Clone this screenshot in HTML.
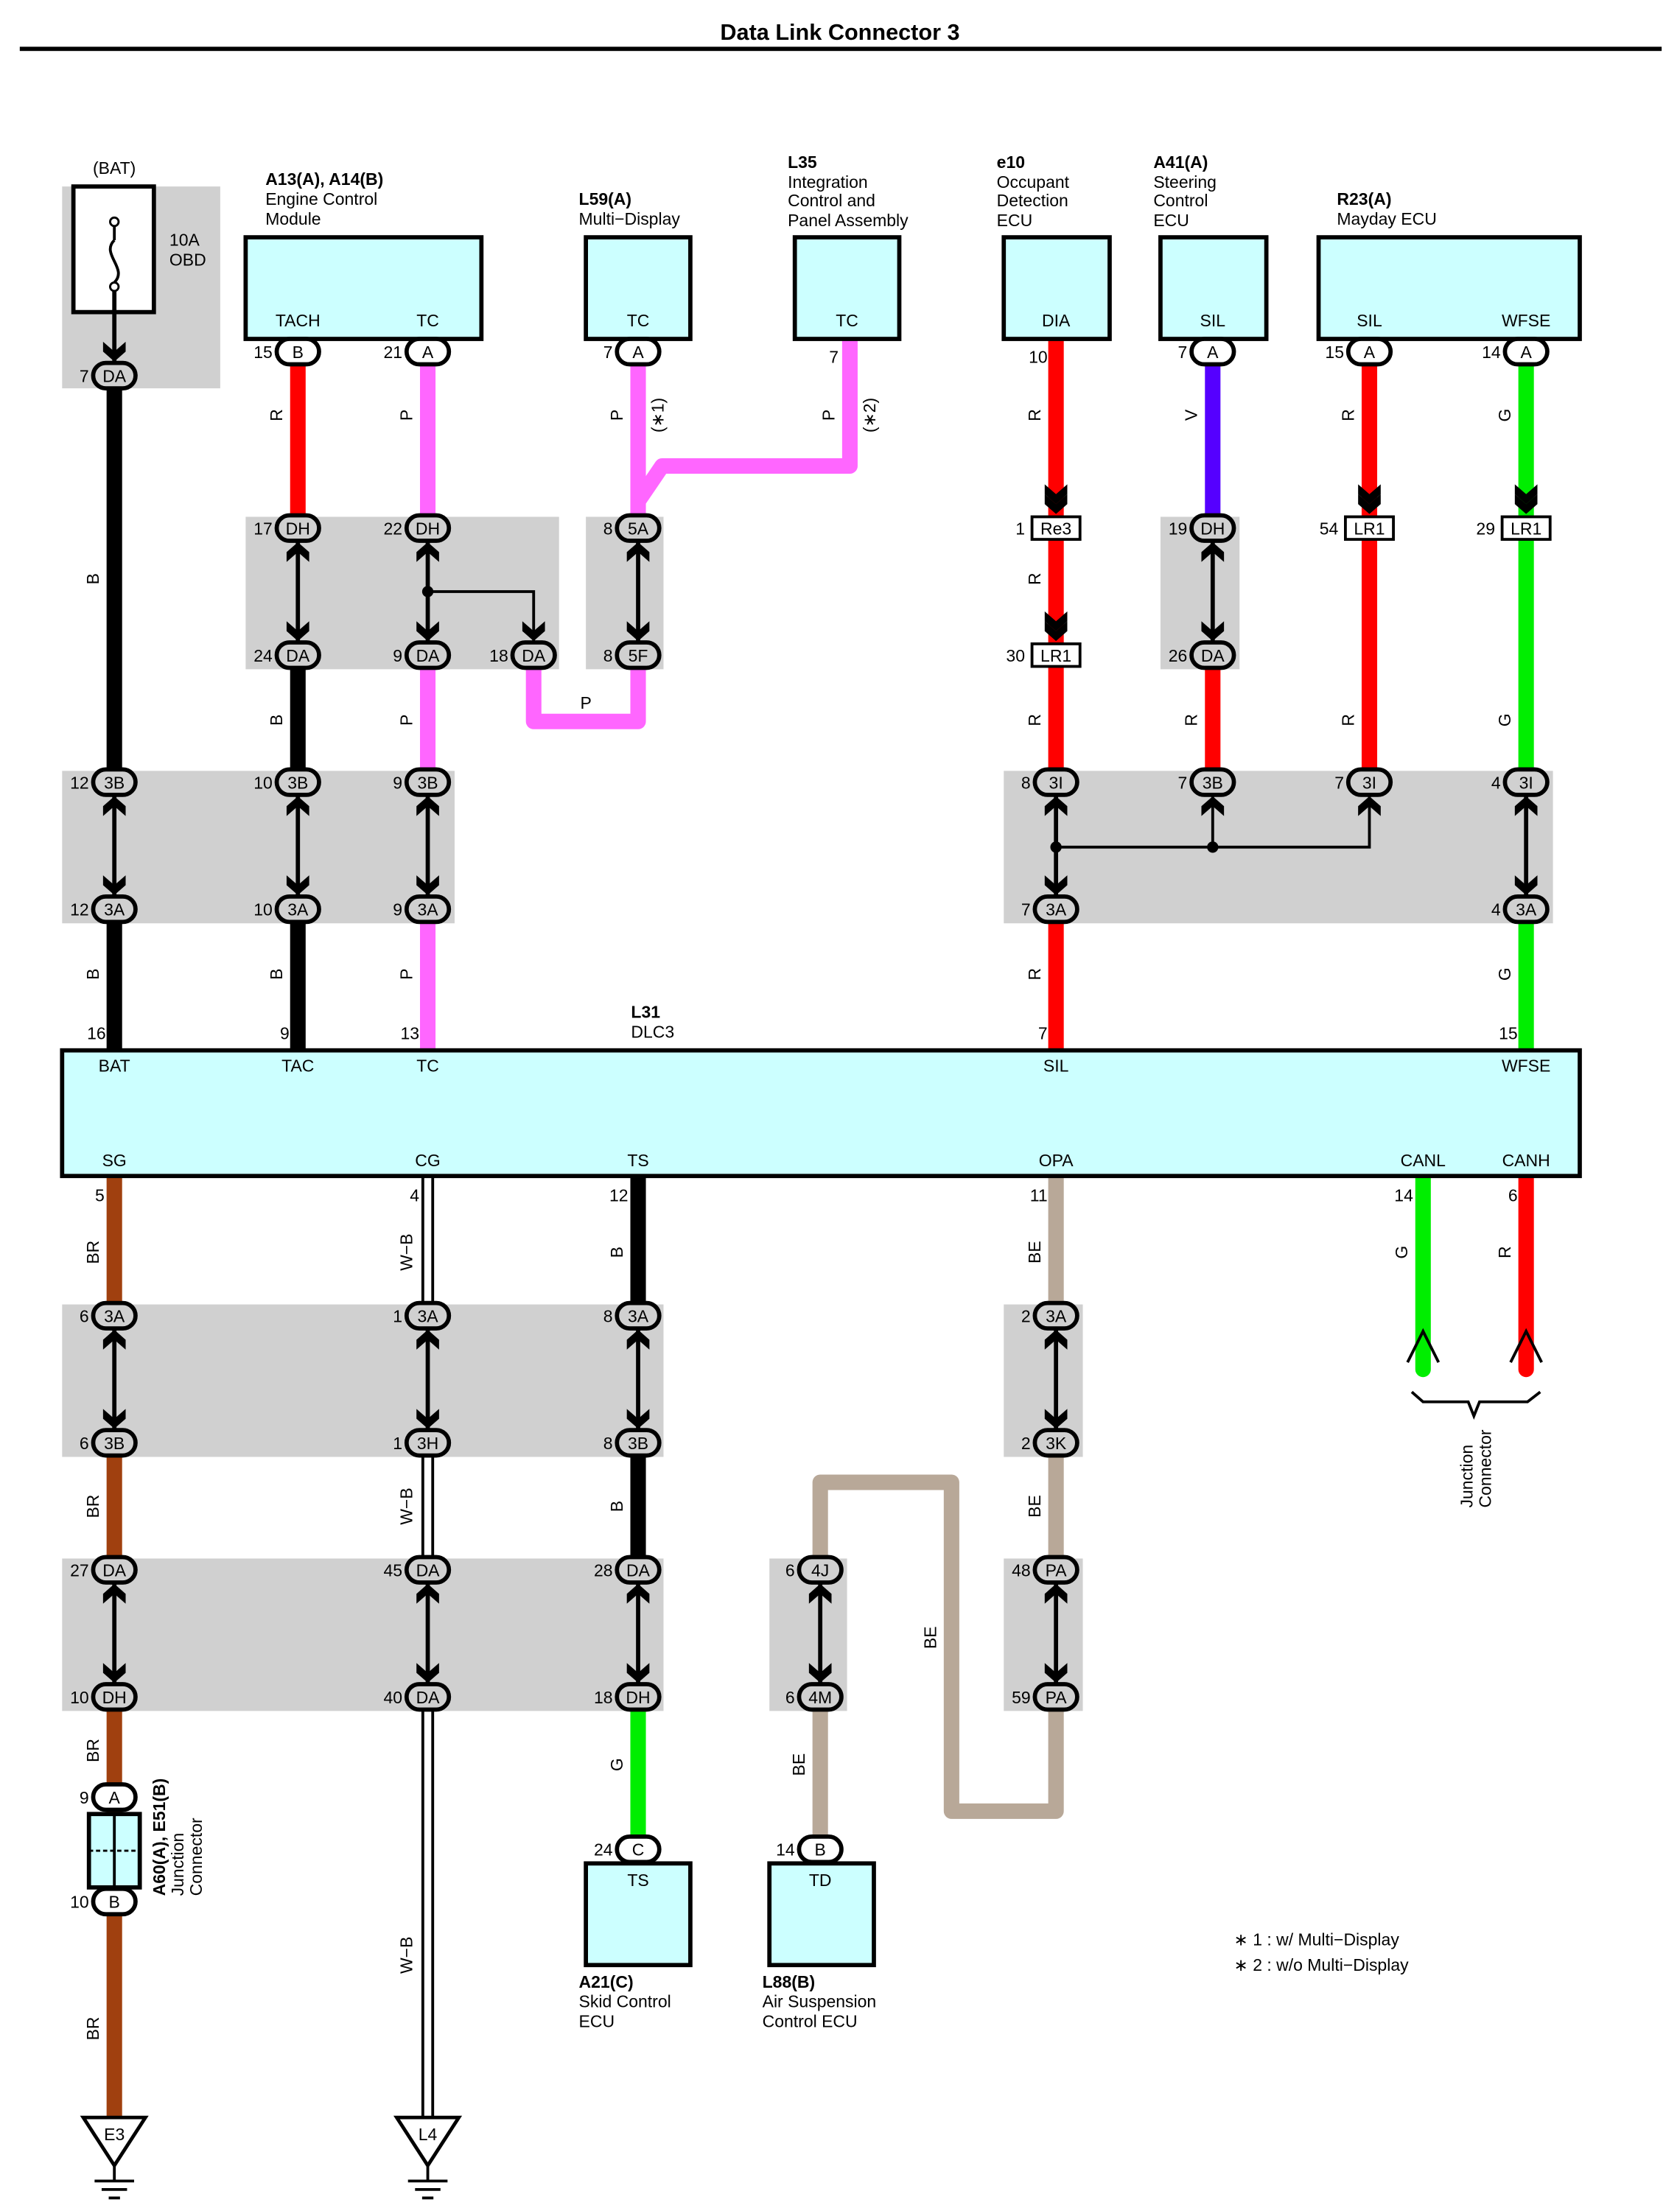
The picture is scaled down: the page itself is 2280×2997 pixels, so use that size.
<!DOCTYPE html>
<html><head><meta charset="utf-8"><style>
html,body{margin:0;padding:0;background:#fff}
svg{display:block}
text{font-family:"Liberation Sans",Arial,sans-serif;fill:#000}
</style></head><body>
<svg id="s" xmlns="http://www.w3.org/2000/svg" width="2280" height="2997" viewBox="1 0 1190 1564"></svg>
<script>
var o=[];
var G='#d0d0d0',CY='#ccffff';
var C={R:'#ff0000',P:'#ff66ff',B:'#000000',G:'#00ee00',V:'#5500ff',BR:'#a0400f',BE:'#b8a898'};
function rect(x1,y1,x2,y2,f,sw){o.push('<rect x="'+x1+'" y="'+y1+'" width="'+(x2-x1)+'" height="'+(y2-y1)+'" fill="'+f+'"'+(sw?' stroke="#000" stroke-width="'+sw+'"':'')+'/>');}
function T(x,y,t,sz,anc,extra){o.push('<text x="'+x+'" y="'+y+'" font-size="'+(sz||12)+'" text-anchor="'+(anc||'start')+'" '+(extra||'')+'>'+t+'</text>');}
function w(pts,col,wd){o.push('<polyline points="'+pts+'" fill="none" stroke="'+col+'" stroke-width="'+(wd||11)+'" stroke-linejoin="round"/>');}
function vl(x,y,t){o.push('<text font-size="12" text-anchor="middle" transform="translate('+(x-11)+','+y+') rotate(-90)">'+t+'</text>');}
function ov(x,y,l,p,bg){o.push('<rect x="'+(x-15)+'" y="'+(y-9)+'" width="30" height="18" rx="9" fill="'+(bg||'#fff')+'" stroke="#000" stroke-width="3"/>');T(x,y+4.5,l,12,'middle');if(p!==undefined)T(x-18,y+4.5,p,12,'end');}
function lr(x,y,l,p){o.push('<rect x="'+(x-17)+'" y="'+(y-8)+'" width="34" height="16" fill="#fff" stroke="#000" stroke-width="2"/>');T(x,y+4.5,l,12,'middle');T(x-22,y+4.5,p,12,'end');}
function ar(x,y,d){var s=d;o.push('<polygon points="'+(x-8)+','+(y-14*s)+' '+x+','+(y-7*s)+' '+(x+8)+','+(y-14*s)+' '+(x+8)+','+(y-7*s)+' '+x+','+y+' '+(x-8)+','+(y-7*s)+'" fill="#000"/>');}
function cover(x,a,b){rect(x-8,a+8,x+8,b-8,G);}
function pair(x,a,b){cover(x,a,b);o.push('<line x1="'+x+'" y1="'+(a+10)+'" x2="'+x+'" y2="'+(b-10)+'" stroke="#000" stroke-width="3"/>');ar(x,a+10,-1);ar(x,b-10,1);}
function dot(x,y){o.push('<circle cx="'+x+'" cy="'+y+'" r="4" fill="#000"/>');}
function ln(p){o.push('<polyline points="'+p+'" fill="none" stroke="#000" stroke-width="2"/>');}
function box(x1,y1,x2,y2){rect(x1,y1,x2,y2,CY,3);}

T(596,28,'Data Link Connector 3',16,'middle','font-weight="bold"');
rect(15,33,1178,36,'#000');
rect(45,132,157,275,G);
rect(175,366,397,474,G);rect(416,366,471,474,G);rect(823,366,879,474,G);
rect(45,546,323,654,G);rect(712,546,1101,654,G);
rect(45,924,471,1032,G);rect(712,924,768,1032,G);
rect(45,1104,471,1212,G);rect(546,1104,601,1212,G);rect(712,1104,768,1212,G);

w('82,256 82,744',C.B);
w('212,249 212,374',C.R);w('212,464 212,744',C.B);
w('304,249 304,744',C.P);
w('379,464 379,511 453,511 453,464',C.P);
w('453,249 453,374',C.P);
w('453,355 470,330 603,330 603,240',C.P);
w('749,240 749,744',C.R);
w('860,249 860,374',C.V);w('860,464 860,554',C.R);
w('971,249 971,554',C.R);
w('1082,249 1082,744',C.G);
w('82,833 82,1500',C.BR);
o.push('<line x1="304" y1="833" x2="304" y2="1500" stroke="#000" stroke-width="9"/><line x1="304" y1="833" x2="304" y2="1500" stroke="#fff" stroke-width="5"/>');
w('453,833 453,1202',C.B);w('453,1202 453,1310',C.G);
w('749,833 749,1283 675,1283 675,1050 582,1050 582,1310',C.BE);
o.push('<line x1="1009" y1="833" x2="1009" y2="970" stroke="'+C.G+'" stroke-width="11" stroke-linecap="round"/>');
o.push('<line x1="1082" y1="833" x2="1082" y2="970" stroke="'+C.R+'" stroke-width="11" stroke-linecap="round"/>');

rect(53,132,110,221,'#fff',3);
T(82,123,'(BAT)',12,'middle');
o.push('<line x1="82" y1="160" x2="82" y2="170" stroke="#000" stroke-width="2"/><path d="M82,170 C72,180 92,190 82,200" fill="none" stroke="#000" stroke-width="2"/><circle cx="82" cy="157" r="3" fill="#fff" stroke="#000" stroke-width="1.5"/><circle cx="82" cy="203" r="3" fill="#fff" stroke="#000" stroke-width="1.5"/><line x1="82" y1="206" x2="82" y2="256" stroke="#000" stroke-width="3"/>');
T(121,174,'10A',12);T(121,188,'OBD',12);
ar(82,256,1);
ov(82,266,'DA','7',G);

T(189,131,'A13(A), A14(B)',12,'start','font-weight="bold"');T(189,145,'Engine Control',12);T(189,159,'Module',12);
box(175,168,342,240);T(212,231,'TACH',12,'middle');T(304,231,'TC',12,'middle');
ov(212,249,'B','15');ov(304,249,'A','21');
T(411,145,'L59(A)',12,'start','font-weight="bold"');T(411,159,'Multi&#8722;Display',12);
box(416,168,490,240);T(453,231,'TC',12,'middle');ov(453,249,'A','7');
T(559,119,'L35',12,'start','font-weight="bold"');T(559,133,'Integration',12);T(559,146,'Control and',12);T(559,160,'Panel Assembly',12);
box(564,168,638,240);T(601,231,'TC',12,'middle');T(595,257,'7',12,'end');
T(707,119,'e10',12,'start','font-weight="bold"');T(707,133,'Occupant',12);T(707,146,'Detection',12);T(707,160,'ECU',12);
box(712,168,787,240);T(749,231,'DIA',12,'middle');T(743,257,'10',12,'end');
T(818,119,'A41(A)',12,'start','font-weight="bold"');T(818,133,'Steering',12);T(818,146,'Control',12);T(818,160,'ECU',12);
box(823,168,898,240);T(860,231,'SIL',12,'middle');ov(860,249,'A','7');
T(948,145,'R23(A)',12,'start','font-weight="bold"');T(948,159,'Mayday ECU',12);
box(935,168,1120,240);T(971,231,'SIL',12,'middle');T(1082,231,'WFSE',12,'middle');
ov(971,249,'A','15');ov(1082,249,'A','14');

vl(82,410,'B');vl(82,690,'B');
vl(212,294,'R');vl(212,510,'B');vl(212,690,'B');
vl(304,294,'P');vl(304,510,'P');vl(304,690,'P');
vl(453,294,'P');vl(482,294,'(&#8727;1)');vl(603,294,'P');vl(632,294,'(&#8727;2)');
T(416,502,'P',12,'middle');
vl(749,294,'R');vl(749,410,'R');vl(749,510,'R');vl(749,690,'R');
vl(860,294,'V');vl(860,510,'R');
vl(971,294,'R');vl(971,510,'R');
vl(1082,294,'G');vl(1082,510,'G');vl(1082,690,'G');

pair(212,374,464);ov(212,374,'DH','17',G);ov(212,464,'DA','24',G);
cover(304,374,464);
o.push('<line x1="304" y1="384" x2="304" y2="454" stroke="#000" stroke-width="3"/>');ar(304,384,-1);ar(304,454,1);
ln('304,419 379,419 379,454');ar(379,454,1);dot(304,419);
ov(304,374,'DH','22',G);ov(304,464,'DA','9',G);ov(379,464,'DA','18',G);
pair(453,374,464);ov(453,374,'5A','8',G);ov(453,464,'5F','8',G);
ar(749,364,1);ar(749,357,1);lr(749,374,'Re3','1');
ar(749,454,1);ar(749,447,1);lr(749,464,'LR1','30');
pair(860,374,464);ov(860,374,'DH','19',G);ov(860,464,'DA','26',G);
ar(971,364,1);ar(971,357,1);lr(971,374,'LR1','54');
ar(1082,364,1);ar(1082,357,1);lr(1082,374,'LR1','29');
pair(82,554,644);ov(82,554,'3B','12',G);ov(82,644,'3A','12',G);
pair(212,554,644);ov(212,554,'3B','10',G);ov(212,644,'3A','10',G);
pair(304,554,644);ov(304,554,'3B','9',G);ov(304,644,'3A','9',G);
cover(749,554,644);
o.push('<line x1="749" y1="564" x2="749" y2="634" stroke="#000" stroke-width="3"/>');ar(749,564,-1);ar(749,634,1);
ln('749,600 971,600 971,564');ar(971,564,-1);dot(749,600);dot(860,600);
ln('860,564 860,600');ar(860,564,-1);
ov(749,554,'3I','8',G);ov(860,554,'3B','7',G);ov(971,554,'3I','7',G);ov(749,644,'3A','7',G);
pair(1082,554,644);ov(1082,554,'3I','4',G);ov(1082,644,'3A','4',G);

T(448,721,'L31',12,'start','font-weight="bold"');T(448,735,'DLC3',12);
T(76,736,'16',12,'end');T(206,736,'9',12,'end');T(298,736,'13',12,'end');T(743,736,'7',12,'end');T(1076,736,'15',12,'end');
box(45,744,1120,833);
T(82,759,'BAT',12,'middle');T(212,759,'TAC',12,'middle');T(304,759,'TC',12,'middle');T(749,759,'SIL',12,'middle');T(1082,759,'WFSE',12,'middle');
T(82,826,'SG',12,'middle');T(304,826,'CG',12,'middle');T(453,826,'TS',12,'middle');T(749,826,'OPA',12,'middle');T(1009,826,'CANL',12,'middle');T(1082,826,'CANH',12,'middle');
T(75,851,'5',12,'end');T(298,851,'4',12,'end');T(446,851,'12',12,'end');T(743,851,'11',12,'end');T(1002,851,'14',12,'end');T(1076,851,'6',12,'end');

vl(82,887,'BR');vl(82,1067,'BR');vl(82,1240,'BR');vl(82,1437,'BR');
vl(304,887,'W&#8722;B');vl(304,1067,'W&#8722;B');vl(304,1385,'W&#8722;B');
vl(453,887,'B');vl(453,1067,'B');vl(453,1250,'G');
vl(749,887,'BE');vl(749,1067,'BE');vl(675,1160,'BE');vl(582,1250,'BE');
vl(1009,887,'G');vl(1082,887,'R');

[[82,'3A','6','3B','6',932,1022],[304,'3A','1','3H','1',932,1022],[453,'3A','8','3B','8',932,1022],[749,'3A','2','3K','2',932,1022],
 [82,'DA','27','DH','10',1112,1202],[304,'DA','45','DA','40',1112,1202],[453,'DA','28','DH','18',1112,1202],[582,'4J','6','4M','6',1112,1202],[749,'PA','48','PA','59',1112,1202]
].forEach(function(a){pair(a[0],a[5],a[6]);ov(a[0],a[5],a[1],a[2],G);ov(a[0],a[6],a[3],a[4],G);});

ov(82,1273,'A','9');
rect(64,1285,100,1337,CY,3);
o.push('<line x1="82" y1="1285" x2="82" y2="1337" stroke="#000" stroke-width="2"/><line x1="64" y1="1311" x2="100" y2="1311" stroke="#000" stroke-width="1.5" stroke-dasharray="3,2"/>');
ov(82,1347,'B','10');
o.push('<text font-size="12" font-weight="bold" transform="translate(118,1343) rotate(-90)">A60(A), E51(B)</text>');
o.push('<text font-size="12" transform="translate(131,1343) rotate(-90)">Junction</text><text font-size="12" transform="translate(144,1343) rotate(-90)">Connector</text>');

function gnd(x,l){o.push('<polygon points="'+(x-22)+',1500 '+(x+22)+',1500 '+x+',1534" fill="#fff" stroke="#000" stroke-width="2.5"/>');T(x,1516,l,12,'middle');
o.push('<line x1="'+x+'" y1="1534" x2="'+x+'" y2="1545" stroke="#000" stroke-width="2"/><line x1="'+(x-14)+'" y1="1545" x2="'+(x+14)+'" y2="1545" stroke="#000" stroke-width="2"/><line x1="'+(x-9)+'" y1="1551" x2="'+(x+9)+'" y2="1551" stroke="#000" stroke-width="2"/><line x1="'+(x-4)+'" y1="1557" x2="'+(x+4)+'" y2="1557" stroke="#000" stroke-width="2"/>');}
gnd(82,'E3');gnd(304,'L4');

ov(453,1310,'C','24');box(416,1320,490,1392);T(453,1336,'TS',12,'middle');
T(411,1408,'A21(C)',12,'start','font-weight="bold"');T(411,1422,'Skid Control',12);T(411,1436,'ECU',12);
ov(582,1310,'B','14');box(546,1320,620,1392);T(582,1336,'TD',12,'middle');
T(541,1408,'L88(B)',12,'start','font-weight="bold"');T(541,1422,'Air Suspension',12);T(541,1436,'Control ECU',12);

ln('998,965 1009,943 1020,965');ln('1071,965 1082,943 1093,965');
o.push('<polyline points="1001,986 1009,993 1041,993 1045,1003 1049,993 1083,993 1092,986" fill="none" stroke="#000" stroke-width="2"/>');
o.push('<text font-size="12" transform="translate(1044,1068) rotate(-90)">Junction</text><text font-size="12" transform="translate(1057,1068) rotate(-90)">Connector</text>');

T(875,1378,'&#8727; 1 : w/ Multi&#8722;Display',12);T(875,1396,'&#8727; 2 : w/o Multi&#8722;Display',12);

document.getElementById('s').innerHTML=o.join('');
</script>
</body></html>
